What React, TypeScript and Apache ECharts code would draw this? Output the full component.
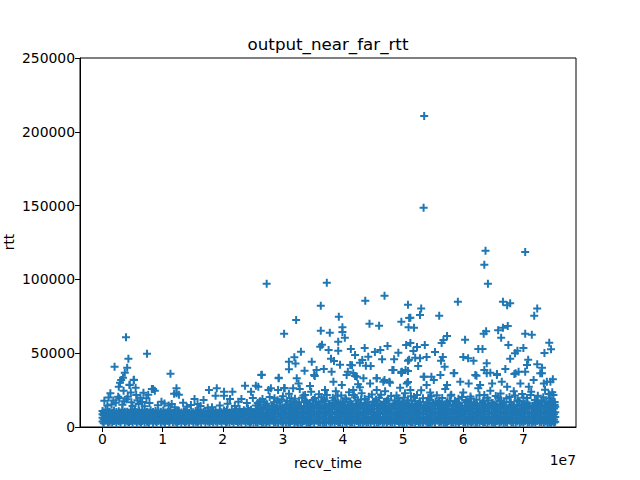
import { useEffect, useRef } from "react";
import * as echarts from "echarts";

// recv_time values are in units of 1e7 (as the axis offset text shows)
const chartTitle = "output_near_far_rtt";
const xAxisLabel = "recv_time";
const yAxisLabel = "rtt";
const xOffsetText = "1e7";
const xTicks = [0, 1, 2, 3, 4, 5, 6, 7];

// high outliers [recv_time, rtt]
const outlierPoints: number[][] = [
  [5.35, 210700], [5.34, 148500], [6.37, 119400], [7.03, 118600], [6.35, 110000], [6.41, 97100],
  [2.73, 97100], [3.73, 97800], [4.69, 89000], [4.37, 85600], [5.91, 84900], [6.66, 84900],
  [6.73, 82500], [6.78, 83800], [5.08, 82900], [3.63, 82200], [5.30, 80200], [5.28, 75900],
  [5.12, 74100], [4.97, 71300], [7.23, 80200], [7.18, 75400], [5.60, 75400], [3.93, 74700],
  [3.22, 72500], [4.44, 70000], [4.60, 68600], [5.10, 73800], [5.09, 67500], [5.18, 67300],
  [3.99, 67500], [3.99, 64400], [4.03, 60500], [3.63, 65200], [3.78, 63900], [3.02, 63200],
  [0.39, 60800], [0.74, 49700], [6.03, 59100], [6.34, 63200], [6.38, 64800], [6.58, 65500],
  [6.66, 67300], [6.74, 68400], [6.63, 60500], [7.03, 63200], [7.14, 62500], [7.43, 57100],
  [7.46, 52600], [7.35, 50100], [7.00, 53500], [6.75, 55600], [6.90, 51700], [6.86, 49900],
  [6.78, 46300], [7.08, 45600], [7.06, 42000], [7.23, 42500], [7.31, 40200], [7.31, 36400],
  [5.05, 55600], [5.23, 54200], [5.36, 55600], [5.64, 56900], [5.67, 58900], [5.73, 61700],
  [6.25, 52800], [6.32, 52800], [6.00, 47400], [6.08, 46500], [6.17, 44900], [5.66, 47400],
  [5.63, 44900], [5.39, 47400], [5.28, 46500], [5.20, 47000], [5.10, 45600], [5.25, 41300],
  [5.08, 37900], [4.97, 36600], [5.69, 40900], [5.85, 36600], [6.22, 34800], [6.39, 43200],
  [6.35, 38600], [6.45, 36800], [6.56, 35900], [6.70, 39300], [6.85, 35900], [6.92, 37500],
  [7.03, 37500], [5.47, 34100], [5.35, 34100], [7.39, 30700], [7.49, 32300],
  [3.65, 55800], [3.62, 54400], [3.76, 52200], [3.92, 57800], [3.92, 51700], [4.36, 53500],
  [4.74, 54900], [4.62, 52200], [4.92, 50300], [4.65, 45900], [4.85, 45900], [4.82, 38600],
  [4.97, 37300], [5.04, 38600], [5.08, 44900], [5.08, 30500], [3.30, 51000], [3.10, 44200],
  [3.19, 47200], [3.21, 43100], [3.10, 39100], [2.65, 35400], [2.93, 33400], [3.48, 44200],
  [3.56, 38600], [3.68, 39300], [3.36, 38100], [3.53, 34600], [3.80, 46300], [3.85, 44700],
  [3.95, 42200], [4.12, 42000], [4.28, 43600], [4.32, 45400], [4.42, 47600], [4.15, 41800],
  [4.08, 37500], [4.20, 34600], [4.56, 33000], [4.38, 41500], [4.46, 41300], [4.69, 31800],
  [4.77, 30700], [4.13, 52800], [4.20, 48800], [4.53, 50800], [5.12, 56900], [5.17, 51500],
  [5.53, 50800], [0.41, 40200], [0.37, 36800], [0.34, 33400], [0.29, 30000], [0.43, 46300],
  [0.20, 40900], [1.13, 36100], [0.52, 32000], [0.45, 28700],
];

// scattered points above the dense band, early part (0 – 2.5e7)
const earlyScatter: number[][] = [
  [0.03, 17800], [0.13, 22800], [0.27, 27300], [0.31, 31800], [0.45, 28500], [0.52, 31800],
  [0.55, 26600], [0.28, 19400], [0.42, 20500], [0.56, 21700], [0.73, 19400], [0.84, 25700],
  [0.98, 17100], [1.03, 16000], [1.20, 13300], [1.23, 26200], [1.23, 22800], [1.34, 16500],
  [1.53, 19000], [1.68, 18300], [1.77, 25100], [1.90, 26200], [1.88, 21200], [2.02, 23900],
  [2.02, 21200], [2.16, 23900], [2.12, 19000], [2.31, 19000], [2.37, 28000], [2.26, 17100],
  [2.47, 23900], [0.82, 25700], [0.87, 24600], [1.27, 21900], [1.19, 22600], [0.63, 19900],
  [0.26, 20500], [1.63, 14200], [1.75, 13100], [1.82, 13300], [0.08, 14500], [0.15, 15200],
  [0.22, 16500], [0.33, 15000], [0.36, 17500], [0.48, 16800], [0.50, 14300], [0.60, 15500],
  [0.66, 17000], [0.70, 14000], [0.78, 16200], [0.92, 14800], [1.10, 14500], [1.15, 15500],
  [1.40, 13800], [1.47, 14900], [1.58, 15500], [1.95, 14600], [2.08, 15800], [2.20, 14300],
  [2.40, 16200], [0.58, 18200], [0.40, 18800], [0.18, 18000], [0.10, 20000], [0.68, 23200],
  [0.76, 21800], [0.35, 24500], [0.47, 23400],
];

// scattered points above the dense band, later part (2.5 – 7.5e7)
const lateScatter: number[][] = [
  [2.59, 27300], [2.64, 35200], [2.76, 25100], [2.93, 33000], [2.92, 25100], [3.03, 26200],
  [3.14, 19400], [3.23, 33000], [3.26, 29500], [3.37, 21700], [3.47, 23900], [3.52, 35200],
  [3.70, 25100], [3.73, 21700], [2.55, 28000], [2.50, 19600], [2.80, 26200], [3.02, 26400],
  [3.17, 26200], [3.28, 25700], [3.81, 37500], [3.84, 30700], [3.98, 28500], [4.06, 35200],
  [4.17, 36400], [4.23, 34100], [4.34, 33000], [4.45, 29500], [4.56, 33000], [4.67, 30700],
  [4.78, 30000], [4.31, 22800], [4.17, 25100], [4.56, 25100], [4.84, 38600], [4.98, 37500],
  [5.06, 29500], [5.12, 25100], [5.23, 21700], [5.34, 34100], [5.39, 28500], [5.51, 31800],
  [5.62, 35200], [5.73, 28500], [5.84, 36400], [5.95, 30700], [6.09, 29500], [6.20, 35200],
  [6.28, 28500], [6.39, 36400], [6.48, 29500], [6.56, 35200], [6.64, 30700], [6.73, 27300],
  [6.87, 36400], [6.95, 29500], [7.09, 27300], [7.17, 31800], [7.28, 36400], [7.34, 29500],
  [7.45, 30700], [7.50, 21700], [4.25, 28900],
  [2.55, 14500], [2.62, 17500], [2.70, 15200], [2.78, 20300], [2.85, 16800], [2.90, 13800],
  [2.98, 18600], [3.05, 15300], [3.10, 22500], [3.18, 16900], [3.25, 14200], [3.32, 19800],
  [3.40, 16200], [3.45, 27800], [3.50, 18300], [3.57, 14800], [3.60, 22200], [3.66, 17400],
  [3.78, 15600], [3.83, 19900], [3.88, 24200], [3.92, 16300], [3.97, 21300], [4.02, 14900],
  [4.05, 18700], [4.10, 23500], [4.14, 15800], [4.20, 20200], [4.26, 16400], [4.28, 27000],
  [4.36, 18900], [4.40, 14600], [4.48, 22100], [4.52, 17300], [4.60, 19800], [4.64, 15100],
  [4.70, 24300], [4.73, 17800], [4.80, 21000], [4.88, 15600], [4.92, 19300], [4.95, 26600],
  [5.00, 16700], [5.03, 22800], [5.08, 18200], [5.15, 15400], [5.18, 20400], [5.27, 17100],
  [5.30, 24900], [5.35, 14800], [5.42, 19700], [5.45, 23300], [5.50, 16300], [5.56, 21500],
  [5.60, 18000], [5.67, 14700], [5.70, 25800], [5.78, 17600], [5.80, 21900], [5.88, 15900],
  [5.92, 19100], [6.00, 23400], [6.04, 16600], [6.12, 20700], [6.15, 14500], [6.22, 18400],
  [6.25, 26300], [6.32, 16200], [6.35, 21600], [6.42, 17900], [6.45, 24600], [6.52, 15300],
  [6.58, 19900], [6.62, 22700], [6.68, 16800], [6.77, 20300], [6.80, 14900], [6.84, 24200],
  [6.90, 18100], [6.98, 22400], [7.02, 15800], [7.06, 19600], [7.13, 23800], [7.20, 16400],
  [7.24, 21100], [7.30, 17700], [7.36, 25200], [7.40, 15200], [7.44, 19300], [7.48, 23600],
  [7.52, 16900],
  [2.58, 16200], [2.66, 18900], [2.73, 15800], [2.86, 19400], [2.94, 16700], [3.00, 20800],
  [3.07, 17600], [3.13, 15500], [3.20, 19200], [3.27, 16800], [3.34, 21400], [3.39, 17200],
  [3.46, 15900], [3.53, 19700], [3.59, 16400], [3.64, 20100], [3.71, 17500], [3.76, 15300],
  [3.86, 18100], [3.91, 21200], [3.96, 16100], [4.04, 19500], [4.12, 17200], [4.18, 21600],
  [4.22, 15600], [4.30, 18700], [4.38, 16200], [4.43, 20500], [4.50, 17000], [4.58, 15400],
  [4.63, 21800], [4.68, 16900], [4.75, 19200], [4.84, 15800], [4.89, 21300], [4.94, 17400],
  [5.01, 19800], [5.06, 15900], [5.13, 20900], [5.20, 17500], [5.25, 15500], [5.33, 19400],
  [5.40, 16600], [5.47, 20800], [5.54, 17300], [5.58, 15200], [5.65, 19700], [5.72, 16400],
  [5.79, 21200], [5.86, 17800], [5.93, 15600], [5.98, 20400], [6.06, 17100], [6.13, 19300],
  [6.19, 15700], [6.27, 21500], [6.33, 17400], [6.40, 19900], [6.47, 16100], [6.54, 21000],
  [6.60, 17600], [6.66, 15400], [6.72, 19500], [6.79, 16700], [6.86, 21300], [6.93, 17200],
  [7.00, 19800], [7.07, 15900], [7.12, 21700], [7.19, 18300], [7.26, 15600], [7.33, 20200],
  [7.38, 17000], [7.42, 22300], [7.47, 18100], [7.52, 15000],
  [2.60, 13600], [2.69, 17000], [2.82, 14600], [2.91, 18200], [3.04, 13900], [3.12, 17400],
  [3.23, 15600], [3.30, 13700], [3.37, 18000], [3.44, 14400], [3.55, 16900], [3.62, 13800],
  [3.69, 18600], [3.80, 14200], [3.87, 16700], [3.94, 13900], [4.00, 17300], [4.08, 15100],
  [4.16, 13600], [4.24, 18100], [4.33, 14300], [4.41, 16800], [4.47, 13800], [4.55, 18400],
  [4.62, 14000], [4.71, 16500], [4.78, 13700], [4.86, 17900], [4.91, 14400], [4.99, 16200],
  [5.05, 13800], [5.14, 17700], [5.22, 14100], [5.28, 16600], [5.36, 13600], [5.44, 18100],
  [5.52, 14300], [5.59, 16900], [5.66, 13900], [5.74, 17500], [5.82, 14200], [5.90, 16400],
  [5.97, 13700], [6.05, 18300], [6.11, 14500], [6.18, 16700], [6.26, 13800], [6.34, 17800],
  [6.41, 14200], [6.49, 16300], [6.55, 13900], [6.63, 18000], [6.70, 14300], [6.78, 16900],
  [6.85, 13700], [6.92, 17400], [6.99, 14100], [7.05, 16600], [7.15, 13900], [7.22, 18200],
  [7.29, 14400], [7.35, 16800], [7.41, 13800], [7.46, 17100], [7.51, 14100],
];

// dense band: recv_time positions and rows of rtt values at those positions
const bandTimes = [
  0.00, 0.05, 0.12, 0.19, 0.27, 0.33, 0.41, 0.47, 0.54, 0.61,
  0.66, 0.74, 0.80, 0.88, 0.93, 1.01, 1.08, 1.13, 1.21, 1.27,
  1.35, 1.40, 1.48, 1.55, 1.60, 1.68, 1.75, 1.81, 1.88, 1.95,
  2.02, 2.07, 2.15, 2.22, 2.28, 2.35, 2.42, 2.47, 2.55, 2.62,
  2.68, 2.75, 2.82, 2.88, 2.96, 3.01, 3.09, 3.15, 3.22, 3.29,
  3.35, 3.42, 3.48, 3.56, 3.62, 3.69, 3.76, 3.82, 3.89, 3.95,
  4.03, 4.09, 4.15, 4.23, 4.29, 4.36, 4.42, 4.49, 4.56, 4.62,
  4.69, 4.76, 4.82, 4.90, 4.96, 5.02, 5.10, 5.16, 5.23, 5.29,
  5.37, 5.43, 5.49, 5.57, 5.63, 5.70, 5.76, 5.83, 5.90, 5.96,
  6.03, 6.10, 6.16, 6.23, 6.30, 6.36, 6.43, 6.50, 6.56, 6.63,
  6.70, 6.77, 6.83, 6.90, 6.97, 7.03, 7.10, 7.17, 7.23, 7.30,
  7.37, 7.43, 7.49, 7.53,
];
const bandRttA = [
  3800, 4300, 3600, 4100, 3900, 4400, 3700, 4000, 4200, 3800,
  4000, 3600, 4300, 3900, 4100, 3700, 4000, 4400, 3600, 3900,
  4100, 3800, 4200, 3600, 3900, 4300, 3700, 4100, 3800, 4000,
  4200, 3600, 3900, 4100, 3700, 4300, 3800, 3500, 3400, 3900,
  3100, 3700, 4300, 3200, 3800, 3500, 3000, 4000, 3600, 3300,
  3900, 3100, 3700, 4200, 3400, 3000, 3800, 3500, 4100, 3200,
  3600, 3900, 3300, 4000, 3000, 3700, 3400, 4200, 3100, 3800,
  3500, 3900, 3200, 4100, 3600, 3000, 3700, 3400, 4000, 3300,
  3800, 3100, 3600, 4200, 3500, 3000, 3900, 3300, 3700, 4100,
  3200, 3800, 3500, 3000, 4000, 3400, 3700, 3100, 3900, 3600,
  3300, 4200, 3000, 3800, 3500, 3900, 3200, 3600, 4100, 3400,
  3700, 3000, 3800, 3500,
];
const bandRttB = [
  6200, 7100, 5800, 6800, 6500, 7300, 6000, 6700, 7500, 6300,
  6900, 5700, 7200, 6400, 6800, 6100, 7400, 6600, 5900, 7000,
  6300, 7600, 6000, 6700, 6400, 7100, 5800, 6900, 6200, 7300,
  6500, 7000, 6100, 6800, 7400, 6300, 5900, 7200, 6600, 7000,
  6400, 7700, 6200, 6900, 7300, 6000, 6700, 7500, 6300, 7100,
  6800, 6200, 7400, 6500, 7000, 6000, 7600, 6700, 6300, 7200,
  6900, 6100, 7300, 6600, 7800, 6400, 7000, 6200, 7500, 6800,
  6500, 7100, 6000, 7400, 6700, 7200, 6300, 7600, 6900, 6400,
  7000, 6100, 7300, 6600, 7700, 6200, 7100, 6800, 6400, 7500,
  6900, 6300, 7200, 6600, 7800, 6100, 7000, 6700, 7400, 6500,
  6800, 7300, 6200, 7600, 6900, 6400, 7100, 6700, 7500, 6300,
  7000, 6600, 7200, 6800,
];
const bandRttC = [
  8600, 9300, 8200, 9000, 8800, 9400, 8400, 8900, 9500, 8500,
  9100, 8300, 9400, 8700, 9000, 8400, 9200, 8100, 8800, 9300,
  8500, 8900, 8200, 8700, 9300, 8400, 9000, 8600, 9400, 8800,
  8300, 9100, 8700, 9500, 9000, 8500, 9400, 8800, 9100, 9800,
  9300, 10000, 9700, 10800, 9500, 10300, 9900, 10700, 9400, 10100,
  10500, 9600, 10900, 9800, 10400, 9700, 10800, 10100, 9500, 11000,
  10200, 9800, 10700, 10000, 10500, 9600, 11000, 10300, 9900, 10600,
  10100, 10800, 9700, 10400, 10900, 10000, 10600, 9800, 11100, 10300,
  10700, 9900, 10500, 10200, 10900, 9600, 10400, 10800, 10000, 10600,
  10300, 11000, 9800, 10500, 10100, 10800, 10400, 9700, 10900, 10200,
  10600, 10000, 10700, 10300, 11000, 9900, 10500, 10100, 10800, 10200,
  10600, 9800, 10400, 10000,
];
const bandRttD = [
  10800, 11600, 10300, 11200, 10600, 11500, 10400, 11000, 11800, 10700,
  11300, 10200, 11400, 10800, 10500, 11100, 10300, 11300, 10700, 11000,
  10400, 11200, 10200, 10900, 11500, 10300, 11000, 10600, 11300, 10500,
  11100, 11600, 10800, 11400, 12200, 11300, 12500, 11700, 12100, 12800,
  13900, 12500, 14300, 13100, 13700, 12800, 14100, 13300, 14600, 13500,
  13000, 14400, 13800, 15000, 13200, 14700, 13600, 14200, 15300, 13400,
  14500, 13900, 14800, 13300, 15100, 14000, 13700, 14900, 14300, 15400,
  13800, 14600, 14100, 15200, 13600, 14800, 14400, 13900, 15000, 14200,
  14700, 13500, 15300, 14000, 14900, 13800, 14500, 15100, 14100, 14600,
  13700, 15200, 14300, 14800, 13900, 15400, 14200, 14700, 14000, 15000,
  14400, 13800, 14900, 14300, 15200, 13900, 14600, 14100, 15300, 14500,
  14000, 14800, 14200, 13700,
];

// second, interleaved set of band packets
const bandTimesAlt = [
  0.02, 0.09, 0.16, 0.23, 0.30, 0.37, 0.44, 0.50, 0.57, 0.64,
  0.70, 0.77, 0.84, 0.90, 0.97, 1.04, 1.11, 1.17, 1.24, 1.31,
  1.37, 1.44, 1.51, 1.58, 1.64, 1.71, 1.78, 1.84, 1.91, 1.98,
  2.05, 2.11, 2.18, 2.25, 2.31, 2.38, 2.45, 2.51, 2.58, 2.65,
  2.72, 2.78, 2.85, 2.92, 2.99, 3.05, 3.12, 3.19, 3.25, 3.32,
  3.39, 3.45, 3.52, 3.59, 3.66, 3.72, 3.79, 3.86, 3.92, 3.99,
  4.06, 4.12, 4.19, 4.26, 4.33, 4.39, 4.46, 4.52, 4.59, 4.66,
  4.73, 4.79, 4.86, 4.93, 4.99, 5.06, 5.13, 5.20, 5.26, 5.33,
  5.40, 5.46, 5.53, 5.60, 5.67, 5.73, 5.80, 5.87, 5.93, 6.00,
  6.07, 6.13, 6.20, 6.27, 6.33, 6.40, 6.47, 6.53, 6.60, 6.67,
  6.73, 6.80, 6.87, 6.94, 7.00, 7.07, 7.14, 7.20, 7.27, 7.34,
  7.40, 7.46, 7.51,
];
const bandRttE = [
  2600, 3100, 2800, 2500, 3000, 2700, 3200, 2600, 2900, 2500,
  3000, 2700, 2600, 3100, 2800, 2500, 2900, 3200, 2700, 2600,
  3000, 2800, 2500, 3100, 2700, 2900, 2600, 3200, 2800, 2500,
  2900, 3100, 2600, 2800, 3000, 2500, 2700, 3100, 2600, 2900,
  2500, 2800, 3000, 2600, 2700, 3100, 2500, 2900, 2800, 2600,
  3000, 2700, 2500, 3200, 2600, 2800, 2900, 2500, 3100, 2700,
  2600, 3000, 2800, 2500, 2900, 3100, 2600, 2700, 3000, 2500,
  2800, 3200, 2600, 2900, 2700, 2500, 3100, 2800, 2600, 3000,
  2700, 2500, 2900, 3100, 2600, 2800, 3000, 2500, 2700, 3200,
  2600, 2900, 2800, 2500, 3000, 2700, 3100, 2600, 2800, 2500,
  2900, 3100, 2700, 2600, 3000, 2800, 2500, 2900, 3200, 2600,
  2800, 2700, 3000,
];
const bandRttF = [
  5100, 5500, 4900, 5300, 5000, 5600, 4800, 5200, 5400, 5000,
  5300, 4900, 5500, 5100, 5200, 4800, 5400, 5000, 5600, 5100,
  4900, 5300, 5200, 5500, 4800, 5000, 5400, 5100, 5300, 4900,
  5200, 5500, 5000, 5300, 4800, 5400, 5100, 5600, 4900, 5200,
  5000, 5500, 5300, 4800, 5100, 5400, 5200, 4900, 5600, 5000,
  5300, 5100, 4800, 5500, 5200, 5000, 5400, 4900, 5300, 5100,
  5600, 5000, 5200, 4800, 5500, 5300, 4900, 5100, 5400, 5000,
  5200, 4800, 5600, 5100, 5300, 4900, 5500, 5000, 5200, 5400,
  4800, 5100, 5300, 5600, 4900, 5200, 5000, 5400, 5100, 4800,
  5500, 5300, 5000, 5200, 4900, 5600, 5100, 5300, 4800, 5400,
  5000, 5200, 5500, 4900, 5100, 5300, 5000, 5600, 4800, 5200,
  5400, 5000, 5100,
];
const bandRttG = [
  7900, 8400, 7600, 8200, 8000, 8500, 7700, 8100, 8600, 7800,
  8300, 7600, 8400, 8000, 8200, 7700, 8500, 7900, 8100, 8600,
  7800, 8300, 7600, 8200, 8400, 7900, 8000, 8500, 7700, 8300,
  8100, 8600, 7800, 8200, 8400, 7900, 8500, 8000, 8300, 8800,
  8400, 9000, 8600, 9200, 8300, 8900, 8500, 9100, 8700, 9300,
  8400, 9000, 8800, 9200, 8500, 8900, 9300, 8600, 9100, 8400,
  9000, 8700, 9200, 8500, 8900, 9300, 8600, 9100, 8800, 9000,
  8400, 9200, 8700, 8900, 9300, 8500, 9100, 8800, 9000, 8600,
  9200, 8400, 8900, 9300, 8700, 9100, 8500, 9000, 8800, 9200,
  8600, 9000, 8400, 9300, 8800, 9100, 8700, 8900, 9200, 8500,
  9000, 8800, 9300, 8600, 9100, 8900, 8500, 9200, 8700, 9000,
  8800, 9100, 8600,
];
const bandRttH = [
  9900, 10300, 9600, 10100, 9800, 10400, 9700, 10200, 10000, 9600,
  10300, 9800, 10100, 9700, 10400, 9900, 10000, 9600, 10200, 9800,
  10300, 9700, 10000, 10400, 9600, 10100, 9900, 10200, 9700, 10000,
  10300, 9800, 10100, 10500, 9900, 10400, 10800, 10200, 11200, 11800,
  12300, 11600, 12700, 12100, 12900, 11700, 12500, 12000, 13000, 12200,
  11800, 12600, 12300, 12900, 11900, 12400, 13100, 12100, 12700, 12000,
  12500, 11700, 12800, 12200, 13000, 12400, 11900, 12600, 12200, 12900,
  12100, 12700, 11800, 12500, 13100, 12300, 12000, 12800, 12400, 12200,
  12900, 11900, 12600, 12100, 12800, 12300, 11800, 12700, 12500, 12000,
  12900, 12200, 12600, 11900, 12400, 13000, 12100, 12700, 12300, 12500,
  12000, 12800, 12200, 12600, 11800, 12900, 12400, 12100, 12700, 12300,
  12500, 12000, 12600,
];

const PLUS = "path://M3,0H5V3H8V5H5V8H3V5H0V3H3Z";
const FONT = "DejaVu Sans";

export default function App() {
  const ref = useRef<HTMLDivElement>(null);
  useEffect(() => {
    if (!ref.current) return;
    const chart = echarts.init(ref.current, null, { renderer: "svg" });
    const band: number[][] = [];
    [bandRttA, bandRttB, bandRttC, bandRttD].forEach((row) => {
      row.forEach((v, i) => {
        if (bandTimes[i] !== undefined) band.push([bandTimes[i], v]);
      });
    });
    [bandRttE, bandRttF, bandRttG, bandRttH].forEach((row) => {
      row.forEach((v, i) => {
        if (bandTimesAlt[i] !== undefined) band.push([bandTimesAlt[i], v]);
      });
    });
    const data = [...band, ...earlyScatter, ...lateScatter, ...outlierPoints];
    const axisText = { color: "#000", fontFamily: FONT, fontSize: 13.9 };
    chart.setOption({
      animation: false,
      backgroundColor: "#fff",
      grid: {
        left: 80, right: 64, top: 58, bottom: 53,
        show: true, borderColor: "#000", borderWidth: 1, backgroundColor: "transparent",
      },
      xAxis: {
        type: "value",
        min: -0.375, max: 7.875,
        splitLine: { show: false },
        axisLine: { show: true, onZero: false, lineStyle: { color: "#000", width: 1 } },
        axisTick: { show: true, length: 5, lineStyle: { color: "#000", width: 1 }, customValues: xTicks },
        axisLabel: { ...axisText, margin: 5, customValues: xTicks, formatter: (v: number) => String(Math.round(v)) },
      },
      yAxis: {
        type: "value",
        min: 0, max: 250000, interval: 50000,
        splitLine: { show: false },
        axisLine: { show: true, onZero: false, lineStyle: { color: "#000", width: 1 } },
        axisTick: { show: true, length: 5, lineStyle: { color: "#000", width: 1 } },
        axisLabel: { ...axisText, margin: 5, formatter: (v: number) => String(v) },
      },
      graphic: [
        { type: "text", x: 328, y: 44, style: { text: chartTitle, font: `16.7px '${FONT}'`, fill: "#000", align: "center", verticalAlign: "middle" } },
        { type: "text", x: 328, y: 463, style: { text: xAxisLabel, font: `13.9px '${FONT}'`, fill: "#000", align: "center", verticalAlign: "middle" } },
        { type: "text", x: 576, y: 460, style: { text: xOffsetText, font: `13.9px '${FONT}'`, fill: "#000", align: "right", verticalAlign: "middle" } },
        { type: "text", x: 9, y: 242, rotation: Math.PI / 2, style: { text: yAxisLabel, font: `13.9px '${FONT}'`, fill: "#000", align: "center", verticalAlign: "middle" } },
      ],
      series: [
        {
          type: "scatter",
          data,
          symbol: PLUS,
          symbolSize: 8,
          itemStyle: { color: "#1f77b4", opacity: 1 },
          clip: false,
        },
      ],
    });
    return () => chart.dispose();
  }, []);
  return <div ref={ref} style={{ position: "fixed", left: 0, top: 0, width: 640, height: 480 }} />;
}
